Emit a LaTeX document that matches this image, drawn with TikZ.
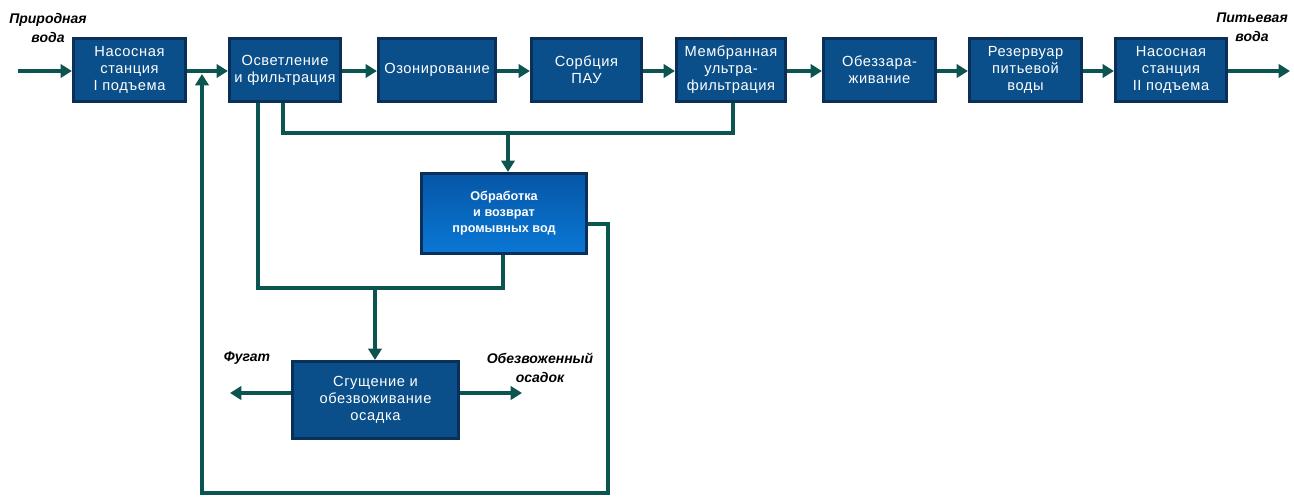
\documentclass[tikz,border=0pt]{standalone}
\usepackage{fontspec}
\setmainfont{Liberation Sans}
\newfontfamily\boxfont[LetterSpace=4]{Liberation Sans}
\usetikzlibrary{arrows.meta,calc}
\definecolor{boxfill}{HTML}{0A4F8A}
\definecolor{boxdraw}{HTML}{0A2F58}
\definecolor{flow}{HTML}{0B5450}
\definecolor{gtop}{HTML}{0656A6}
\definecolor{gbot}{HTML}{0A78D6}
\tikzset{
  px/.style={x=0.75pt,y=-0.75pt},
  blk/.style={draw=boxdraw, line width=2.4pt, fill=boxfill, text=white,
    align=center, inner sep=0pt, font=\boxfont\fontsize{11}{12.8}\selectfont},
  flowline/.style={draw=flow, line width=2.5pt},
  arr/.style={flowline, -{Triangle[length=8.5pt,width=10pt]}},
  lbl/.style={align=center, font=\bfseries\itshape\fontsize{10.5}{14.5}\selectfont, inner sep=0pt},
}
\begin{document}
\begin{tikzpicture}[px]
\useasboundingbox (0,0) rectangle (1294,497);
% top row boxes
\node[blk, minimum width=84pt, minimum height=47.25pt] (b1) at (129.5,70) {Насосная\\станция\\I подъема};
\node[blk, minimum width=83.25pt, minimum height=47.25pt] (b2) at (285,70) {Осветление\\и фильтрация};
\node[blk, minimum width=87.75pt, minimum height=47.25pt] (b3) at (437,70) {Озонирование};
\node[blk, minimum width=82.5pt, minimum height=47.25pt] (b4) at (586.5,70) {Сорбция\\ПАУ};
\node[blk, minimum width=81.75pt, minimum height=47.25pt] (b5) at (731,70) {Мембранная\\ультра-\\фильтрация};
\node[blk, minimum width=84pt, minimum height=47.25pt] (b6) at (879.5,70) {Обеззара-\\живание};
\node[blk, minimum width=84pt, minimum height=47.25pt] (b7) at (1025.5,70) {Резервуар\\питьевой\\воды};
\node[blk, minimum width=83.25pt, minimum height=47.25pt] (b8) at (1171,70) {Насосная\\станция\\II подъема};
% lower boxes
\node[blk, top color=gtop, bottom color=gbot, minimum width=123.75pt, minimum height=60pt,
  font=\bfseries\fontsize{9.5}{12}\selectfont] (proc) at (504,213.5) {Обработка\\и возврат\\промывных вод};
\node[blk, minimum width=124.5pt, minimum height=57.75pt] (thick) at (375.5,400) {Сгущение и\\обезвоживание\\осадка};
% labels
\node[lbl] (lin) at (48,28) {Природная\\вода};
\node[lbl] (lout) at (1252,27) {Питьевая\\вода};
\node[lbl] (lfug) at (247,358) {Фугат};
\node[lbl] (lcake) at (540,368) {Обезвоженный\\осадок};
% coordinates
\coordinate (inS) at (18,71);
\coordinate (outE) at (1290,71);
\coordinate (j1) at (508,133);
\coordinate (j2) at (375,288);
\coordinate (fbA) at (608,224);
\coordinate (fbB) at (608,493);
\coordinate (fbC) at (202,493);
\coordinate (fbT) at (202,74);
\coordinate (fugE) at (230,393);
\coordinate (cakeE) at (522,393);
% main flow
\draw[arr] (inS) -- (inS -| b1.west);
\draw[arr] (b1.east |- inS) -- (b2.west |- inS);
\draw[arr] (b2.east |- inS) -- (b3.west |- inS);
\draw[arr] (b3.east |- inS) -- (b4.west |- inS);
\draw[arr] (b4.east |- inS) -- (b5.west |- inS);
\draw[arr] (b5.east |- inS) -- (b6.west |- inS);
\draw[arr] (b6.east |- inS) -- (b7.west |- inS);
\draw[arr] (b7.east |- inS) -- (b8.west |- inS);
\draw[arr] (b8.east |- inS) -- (outE);
% washwater collection
\draw[flowline] (b2.south -| 283,0) |- (j1) -| (b5.south -| 733,0);
\draw[arr] (j1) -- (proc.north -| j1);
% sludge line
\draw[flowline] (b2.south -| 258,0) |- (j2) -| (proc.south -| 503,0);
\draw[arr] (j2) -- (thick.north -| j2);
% recycle
\draw[arr] (proc.east |- fbA) -- (fbA) -- (fbB) -- (fbC) -- (fbT);
% outputs of thickening
\draw[arr] (thick.west |- fugE) -- (fugE);
\draw[arr] (thick.east |- cakeE) -- (cakeE);
\end{tikzpicture}
\end{document}
